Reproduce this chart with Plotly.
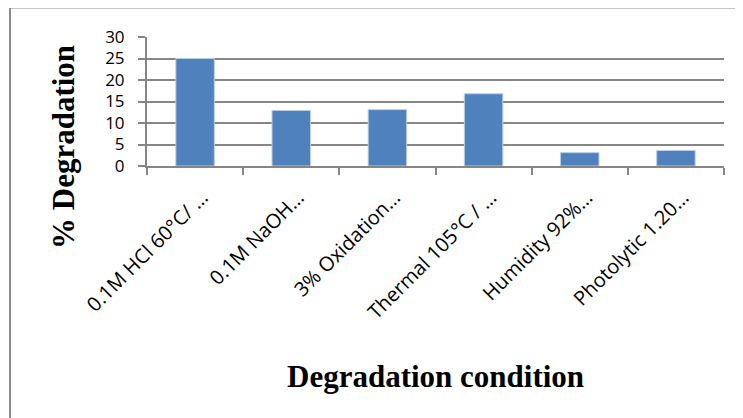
import plotly.graph_objects as go

categories = ["0.1M HCl 60°C/ …", "0.1M NaOH…", "3% Oxidation…", "Thermal 105°C / …",
              "Humidity 92%…", "Photolytic 1.20…"]
degradation = [25.0, 12.9, 13.1, 16.8, 3.1, 3.6]
y_ticks = [0, 5, 10, 15, 20, 25, 30]

O = 8  # page body offset
W, H = 743 - O, 418 - O
L, T = 147 - O, 37 - O
R = W - (724 - O)
B = H - (166 - O)
pw, ph = W - L - R, H - T - B

def px_x(x):
    return (x - O - L) / pw

def px_y(y):
    return 1 - (y - O - T) / ph

fig = go.Figure(go.Bar(
    x=categories, y=degradation,
    marker=dict(color="#4F81BD", line=dict(color="#B9CDE5", width=1)),
    width=0.4,
))

fig.update_layout(
    width=W, height=H,
    margin=dict(l=L, r=R, t=T, b=B),
    paper_bgcolor="white", plot_bgcolor="white",
    showlegend=False,
    xaxis=dict(
        tickangle=-45,
        tickfont=dict(family="Open Sans", size=20, color="black"),
        showline=True, linecolor="#868686", linewidth=2,
        ticks="outside", ticklen=7, tickcolor="#868686", tickwidth=2,
        tickson="boundaries",
        ticklabelstandoff=10, ticklabelshift=7,
        showgrid=False,
        automargin=False,
    ),
    yaxis=dict(
        range=[0, 30], tickvals=y_ticks,
        tickfont=dict(family="Open Sans", size=17, color="black"),
        showline=True, linecolor="#868686", linewidth=2,
        ticks="outside", ticklen=7, tickcolor="#868686", tickwidth=2,
        ticklabelstandoff=10,
        showgrid=True, gridcolor="#868686", gridwidth=2,
        zeroline=False,
        automargin=False,
    ),
    annotations=[
        dict(text="<b>% Degradation</b>", xref="paper", yref="paper",
             x=px_x(63), y=px_y(147), textangle=-90, showarrow=False,
             font=dict(family="Liberation Serif", size=31, color="black"),
             xanchor="center", yanchor="middle"),
        dict(text="<b>Degradation condition</b>", xref="paper", yref="paper",
             x=px_x(435), y=px_y(376), showarrow=False,
             font=dict(family="Liberation Serif", size=31, color="black"),
             xanchor="center", yanchor="middle"),
    ],
    shapes=[
        dict(type="line", xref="paper", yref="paper",
             x0=px_x(10), x1=px_x(760), y0=px_y(7.5), y1=px_y(7.5),
             line=dict(color="#8C8C8C", width=2)),
        dict(type="line", xref="paper", yref="paper",
             x0=px_x(10), x1=px_x(10), y0=px_y(7.5), y1=px_y(430),
             line=dict(color="#8C8C8C", width=2)),
    ],
)

fig.write_html("out.html")
